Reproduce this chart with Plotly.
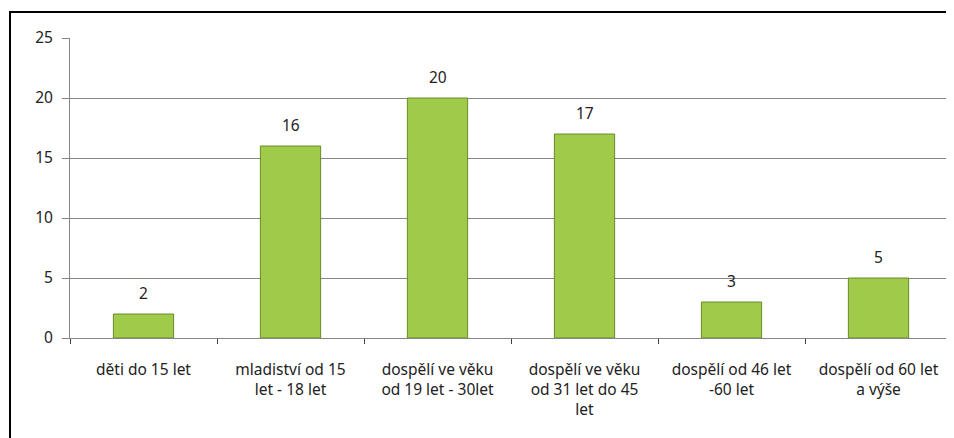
import plotly.graph_objects as go

categories = [
    "děti do 15 let",
    "mladiství od 15<br>let - 18 let",
    "dospělí ve věku<br>od 19 let - 30let",
    "dospělí ve věku<br>od 31 let do 45<br>let",
    "dospělí od 46 let<br>-60 let",
    "dospělí od 60 let<br>a výše",
]
values = [2, 16, 20, 17, 3, 5]
y_ticks = [0, 5, 10, 15, 20, 25]

# page body has an 8px offset; target plot area: x 70..952, y 38..338
W, H = 954, 438
OFF = 8
L, T = 70 - OFF, 38 - OFF
R = (W + OFF) - 952
B = (H) - (338 - OFF)

FONT = "Noto Sans"
FS = 15.5
TXT = "#222222"

fig = go.Figure()
fig.add_trace(go.Bar(
    x=categories, y=values,
    width=0.41,
    marker=dict(color="#9fca4a", line=dict(color="#6a8a26", width=1)),
))

for c, v in zip(categories, values):
    fig.add_annotation(
        x=c, y=v, text=str(v), showarrow=False,
        yanchor="bottom", yshift=8,
        font=dict(family=FONT, size=FS, color=TXT),
    )

fig.update_layout(
    width=W, height=H,
    margin=dict(l=L, r=R, t=T, b=B),
    plot_bgcolor="white", paper_bgcolor="white",
    showlegend=False,
    font=dict(family=FONT, size=FS, color=TXT),
)
fig.update_xaxes(
    type="category",
    tickson="boundaries",
    ticks="outside", ticklen=5, tickcolor="#404040",
    showline=True, linecolor="#868686", linewidth=1,
    showgrid=False,
    ticklabelstandoff=17,
    tickfont=dict(family=FONT, size=FS, color=TXT),
)
fig.update_yaxes(
    range=[0, 25],
    tickvals=y_ticks,
    ticks="outside", ticklen=7, tickcolor="#868686",
    showline=True, linecolor="#868686", linewidth=1,
    showgrid=True, gridcolor="#868686", gridwidth=1,
    zeroline=False,
    ticklabelstandoff=6,
    tickfont=dict(family=FONT, size=FS, color=TXT),
)

pw, ph = W - L - R, H - T - B
# outer chart border: left at x=10, top at y=12 (page pixels)
fig.add_shape(
    type="rect", xref="paper", yref="paper",
    x0=(10 - 70) / pw, x1=1.05,
    y0=-0.6, y1=(338 - 12) / ph,
    line=dict(color="black", width=2),
    fillcolor="rgba(0,0,0,0)", layer="above",
)

fig.write_html("out.html")
